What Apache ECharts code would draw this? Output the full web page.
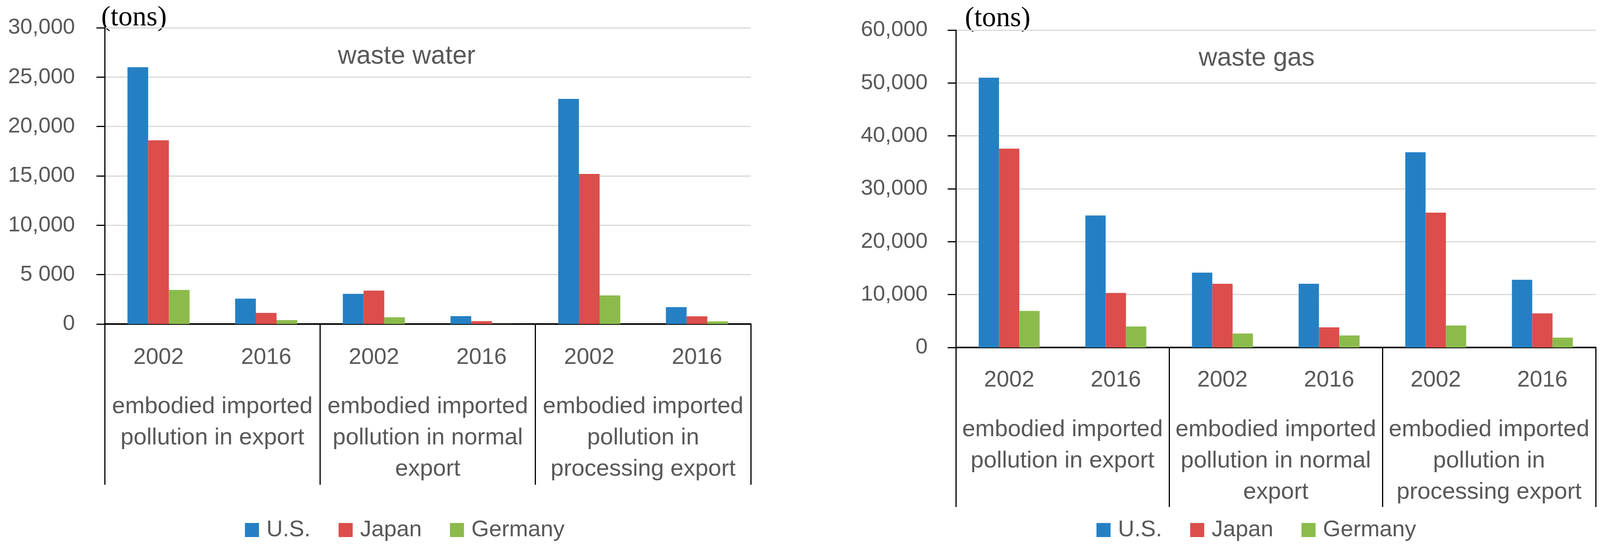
<!DOCTYPE html>
<html>
<head>
<meta charset="utf-8">
<script src="https://cdn.jsdelivr.net/npm/echarts@6/dist/echarts.min.js"></script>
<style>
html,body{margin:0;padding:0;background:#fff;}
#chart{width:4107px;height:1402px;}
</style>
</head>
<body>
<div id="chart"></div>
<script>
const years = ['2002', '2016', '2002', '2016', '2002', '2016'];
const groups = ['embodied imported\npollution in export', 'embodied imported\npollution in normal\nexport', 'embodied imported\npollution in\nprocessing export'];
const seriesNames = ['U.S.', 'Japan', 'Germany'];
const colors = ['#2580C3', '#DB4E4B', '#8CBB4C'];

const waterUS = [26000, 2570, 3060, 800, 22800, 1710];
const waterJapan = [18600, 1130, 3380, 300, 15200, 780];
const waterGermany = [3450, 400, 680, 10, 2900, 270];

const gasUS = [51000, 24950, 14150, 12050, 36900, 12800];
const gasJapan = [37600, 10300, 12050, 3800, 25500, 6450];
const gasGermany = [6900, 3980, 2640, 2280, 4160, 1870];

const waterTicks = ['0', '5 000', '10,000', '15,000', '20,000', '25,000', '30,000'];
const gasTicks = ['0', '10,000', '20,000', '30,000', '40,000', '50,000', '60,000'];

const FONT = 'Liberation Sans';
const GRAY = '#595959';

const chart = echarts.init(document.getElementById('chart'));

function yearsAxis(gi, margin) {
  return {
    type: 'category', gridIndex: gi, data: years, position: 'bottom',
    axisLine: { show: true, lineStyle: { color: '#000', width: 4 } },
    axisTick: { show: false },
    axisLabel: { fontFamily: FONT, fontSize: 58, color: GRAY, margin: margin, lineHeight: 60, interval: 0 }
  };
}
function groupsAxis(gi, margin, tickLen) {
  return {
    type: 'category', gridIndex: gi, data: groups, position: 'bottom',
    axisLine: { show: false },
    axisTick: { show: true, length: tickLen, interval: 0, alignWithLabel: false, lineStyle: { color: '#000', width: 3 } },
    axisLabel: { fontFamily: FONT, fontSize: 60, color: GRAY, margin: margin, lineHeight: 80, interval: 0, align: 'center' }
  };
}
function valueAxis(gi, max, interval, ticks, margin) {
  return {
    type: 'value', gridIndex: gi, min: 0, max: max, interval: interval,
    axisLine: { show: true, lineStyle: { color: '#000', width: 3 } },
    axisTick: { show: true, length: 21, lineStyle: { color: '#000', width: 3 } },
    splitLine: { show: true, lineStyle: { color: '#D9D9D9', width: 3 } },
    axisLabel: {
      fontFamily: FONT, fontSize: 56, color: GRAY, margin: margin,
      formatter: function (v) { return ticks[Math.round(v / interval)]; }
    }
  };
}
function bars(name, data, color, xi, yi, w) {
  return {
    type: 'bar', name: name, data: data, xAxisIndex: xi, yAxisIndex: yi,
    barWidth: w, barGap: '0%', itemStyle: { color: color }, silent: true
  };
}
function legend(left) {
  return {
    left: left, top: 1326, padding: 0, itemWidth: 36, itemHeight: 36, itemGap: 72,
    icon: 'rect', data: seriesNames,
    textStyle: { fontFamily: FONT, fontSize: 58, color: GRAY, lineHeight: 60, padding: [0, 0, 0, 14] }
  };
}

const option = {
  backgroundColor: '#fff',
  animation: false,
  grid: [
    { left: 268, top: 71, width: 1654, height: 758 },
    { left: 2447, top: 77, width: 1638, height: 812 }
  ],
  xAxis: [
    yearsAxis(0, 56),
    groupsAxis(0, 171, 411),
    yearsAxis(1, 54),
    groupsAxis(1, 170, 408)
  ],
  yAxis: [
    valueAxis(0, 30000, 5000, waterTicks, 76),
    valueAxis(1, 60000, 10000, gasTicks, 72)
  ],
  legend: [legend(627), legend(2807)],
  graphic: [
    { type: 'text', left: 259, top: 10, style: { text: '(tons)', font: '72px "Liberation Serif"', fill: '#000' } },
    { type: 'text', left: 2470, top: 12, style: { text: '(tons)', font: '72px "Liberation Serif"', fill: '#000' } },
    { type: 'text', x: 1041, y: 145, style: { text: 'waste water', font: '66px "Liberation Sans"', fill: GRAY, align: 'center', verticalAlign: 'middle' } },
    { type: 'text', x: 3217, y: 150, style: { text: 'waste gas', font: '66px "Liberation Sans"', fill: GRAY, align: 'center', verticalAlign: 'middle' } }
  ],
  series: [
    bars('U.S.', waterUS, colors[0], 0, 0, 53),
    bars('Japan', waterJapan, colors[1], 0, 0, 53),
    bars('Germany', waterGermany, colors[2], 0, 0, 53),
    bars('U.S.', gasUS, colors[0], 2, 1, 52),
    bars('Japan', gasJapan, colors[1], 2, 1, 52),
    bars('Germany', gasGermany, colors[2], 2, 1, 52)
  ]
};
chart.setOption(option);
</script>
</body>
</html>
